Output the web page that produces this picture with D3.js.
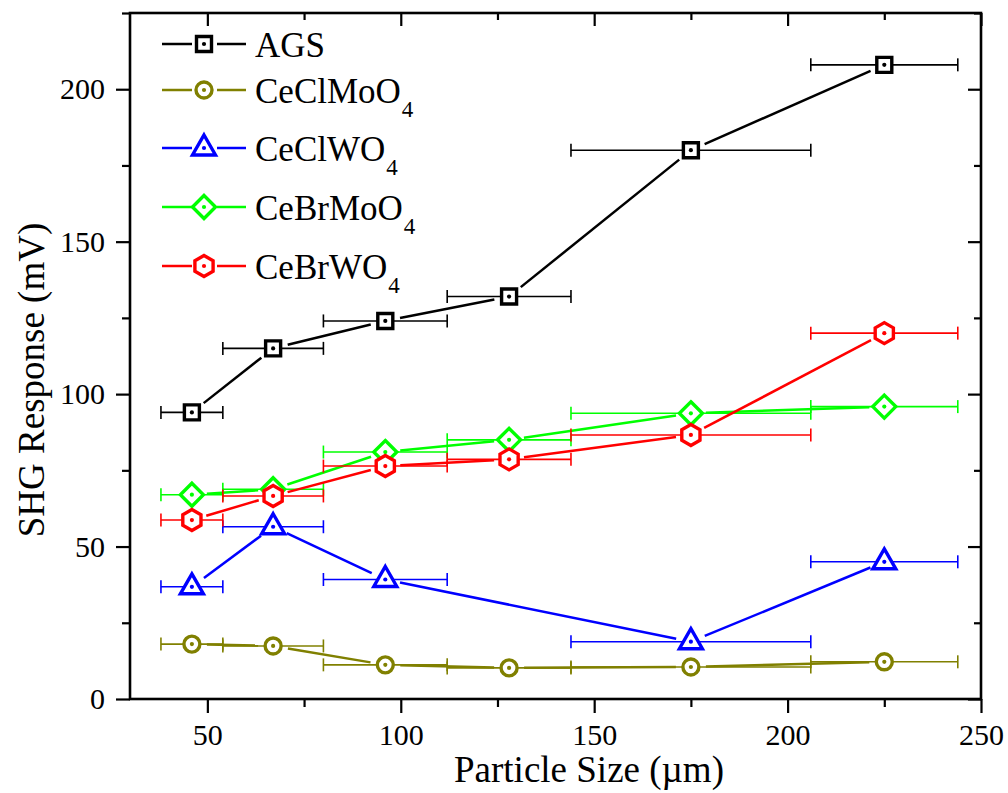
<!DOCTYPE html>
<html lang="en">
<head>
  <meta charset="UTF-8">
  <title>SHG response vs particle size</title>
  <script src="https://d3js.org/d3.v7.min.js"></script>
  <style>
    body { margin: 0; background: #fff; }
    text { font-family: "Liberation Serif", "Times New Roman", serif; }
  </style>
</head>
<body>
  <svg id="chart" width="1008" height="793"></svg>

  <script>
    // particle size ranges (um) -> centre and x error bars
    const sizes = [46, 67, 96, 128, 175, 225];
    const sizeLow = [38, 54, 80, 112, 144, 206];
    const sizeHigh = [54, 80, 112, 144, 206, 244];

    // SHG response (mV), null where there is no point
    const ags = [94, 115, 124, 132, 180, 208];
    const ceClMoO4 = [18, 17.4, 11.2, 10.2, 10.5, 12.2];
    const ceClWO4 = [36.8, 56.5, 39.2, null, 18.8, 45];
    const ceBrMoO4 = [67, 68.8, 81, 85, 93.7, 95.9];
    const ceBrWO4 = [58.7, 66.6, 76.4, 78.6, 86.6, 120];

    const seriesNames = ["AGS", "CeClMoO4", "CeClWO4", "CeBrMoO4", "CeBrWO4"];
    const seriesColors = ["#000000", "#808000", "#0000ff", "#00ff00", "#ff0000"];
    const seriesShapes = ["square", "circle", "triangle", "diamond", "hexagon"];
    const seriesValues = [ags, ceClMoO4, ceClWO4, ceBrMoO4, ceBrWO4];

    const xMajor = [50, 100, 150, 200, 250];
    const xMinor = [75, 125, 175, 225];
    const yMajor = [0, 50, 100, 150, 200];
    const yMinor = [25, 75, 125, 175, 225];

    const padL = 130, padR = 981, padT = 13, padB = 699;
    const svg = d3.select("#chart");

    const x = d3.scaleLinear().domain([30, 250]).range([padL, padR]);
    const y = d3.scaleLinear().domain([0, 225]).range([padB, padT]);

    // axes: outer ticks on bottom/left, inner on top/right
    function styleAxis(g) {
      g.select(".domain").remove();
      g.selectAll("line").attr("stroke", "#000").attr("stroke-width", 2.2);
      g.selectAll("text").attr("font-size", 30).attr("fill", "#000")
        .style("font-family", '"Liberation Serif", "Times New Roman", serif');
    }

    svg.append("g").attr("transform", `translate(0,${padB})`)
      .call(d3.axisBottom(x).tickValues(xMajor).tickSize(14).tickPadding(11))
      .call(styleAxis);
    svg.append("g").attr("transform", `translate(0,${padB})`)
      .call(d3.axisBottom(x).tickValues(xMinor).tickSize(8).tickFormat(""))
      .call(styleAxis);
    svg.append("g").attr("transform", `translate(0,${padT})`)
      .call(d3.axisTop(x).tickValues(xMajor).tickSize(-13).tickFormat(""))
      .call(styleAxis);
    svg.append("g").attr("transform", `translate(0,${padT})`)
      .call(d3.axisTop(x).tickValues(xMinor).tickSize(-7).tickFormat(""))
      .call(styleAxis);

    svg.append("g").attr("transform", `translate(${padL},0)`)
      .call(d3.axisLeft(y).tickValues(yMajor).tickSize(14).tickPadding(11))
      .call(styleAxis);
    svg.append("g").attr("transform", `translate(${padL},0)`)
      .call(d3.axisLeft(y).tickValues(yMinor).tickSize(8).tickFormat(""))
      .call(styleAxis);
    svg.append("g").attr("transform", `translate(${padR},0)`)
      .call(d3.axisRight(y).tickValues(yMajor).tickSize(-13).tickFormat(""))
      .call(styleAxis);
    svg.append("g").attr("transform", `translate(${padR},0)`)
      .call(d3.axisRight(y).tickValues(yMinor).tickSize(-7).tickFormat(""))
      .call(styleAxis);

    svg.append("rect")
      .attr("x", padL).attr("y", padT)
      .attr("width", padR - padL).attr("height", padB - padT)
      .attr("fill", "none").attr("stroke", "#000").attr("stroke-width", 2.6);

    // axis titles
    svg.append("text")
      .attr("x", 589).attr("y", 782)
      .attr("text-anchor", "middle").attr("font-size", 37)
      .text("Particle Size (\u00b5m)");

    svg.append("text")
      .attr("transform", "translate(44,380) rotate(-90)")
      .attr("text-anchor", "middle").attr("font-size", 37)
      .text("SHG Response (mV)");

    // marker shapes
    function shapePath(shape) {
      if (shape === "square") return "M-7.5,-7.5H7.5V7.5H-7.5Z";
      if (shape === "circle") return "M8,0A8,8 0 1,1 -8,0A8,8 0 1,1 8,0Z";
      if (shape === "triangle") return "M0,-13L11.5,7L-11.5,7Z";
      if (shape === "diamond") return "M0,-11.5L11.5,0L0,11.5L-11.5,0Z";
      const r = 10.5;
      const pts = d3.range(6).map(k => {
        const a = (-90 + 60 * k) * Math.PI / 180;
        return [r * Math.cos(a), r * Math.sin(a)];
      });
      return "M" + pts.map(p => p.join(",")).join("L") + "Z";
    }

    function drawMarker(g, cx, cy, shape, color) {
      g.append("path")
        .attr("d", shapePath(shape))
        .attr("transform", `translate(${cx},${cy})`)
        .attr("fill", "#fff").attr("stroke", color).attr("stroke-width", 3.4)
        .attr("stroke-linejoin", "miter");
      g.append("circle")
        .attr("cx", cx).attr("cy", cy).attr("r", 2.1).attr("fill", color);
    }

    const plot = svg.append("g");
    const gap = 15;

    seriesValues.forEach((vals, si) => {
      const color = seriesColors[si];
      const pts = sizes.map((s, i) => ({ i: i, px: x(s), py: vals[i] == null ? null : y(vals[i]) }))
        .filter(p => p.py != null);
      const g = plot.append("g");

      // connecting lines with small gaps at the markers
      for (let k = 0; k < pts.length - 1; k++) {
        const a = pts[k], b = pts[k + 1];
        const dx = b.px - a.px, dy = b.py - a.py;
        const len = Math.hypot(dx, dy);
        const ux = dx / len, uy = dy / len;
        g.append("line")
          .attr("x1", a.px + ux * gap).attr("y1", a.py + uy * gap)
          .attr("x2", b.px - ux * gap).attr("y2", b.py - uy * gap)
          .attr("stroke", color).attr("stroke-width", 2.5);
      }

      // horizontal error bars
      pts.forEach(p => {
        const x1 = x(sizeLow[p.i]), x2 = x(sizeHigh[p.i]);
        g.append("line").attr("x1", x1).attr("x2", x2).attr("y1", p.py).attr("y2", p.py)
          .attr("stroke", color).attr("stroke-width", 1.6);
        [x1, x2].forEach(xx => {
          g.append("line").attr("x1", xx).attr("x2", xx).attr("y1", p.py - 6.5).attr("y2", p.py + 6.5)
            .attr("stroke", color).attr("stroke-width", 1.6);
        });
      });

      pts.forEach(p => drawMarker(g, p.px, p.py, seriesShapes[si], color));
    });

    // legend
    const legendY = [44, 90, 148, 207, 266];
    const legend = svg.append("g");
    seriesNames.forEach((name, i) => {
      const color = seriesColors[i];
      const ly = legendY[i];
      legend.append("line").attr("x1", 162).attr("x2", 192).attr("y1", ly).attr("y2", ly)
        .attr("stroke", color).attr("stroke-width", 2.5);
      legend.append("line").attr("x1", 217).attr("x2", 246).attr("y1", ly).attr("y2", ly)
        .attr("stroke", color).attr("stroke-width", 2.5);
      drawMarker(legend, 204, ly, seriesShapes[i], color);

      const t = legend.append("text")
        .attr("x", 255).attr("y", ly + 12.5)
        .attr("font-size", 35).attr("fill", "#000");
      const m = name.match(/^(.*?)(\d+)$/);
      if (m) {
        t.append("tspan").text(m[1]);
        t.append("tspan").attr("dx", 1).attr("dy", 14).attr("font-size", 23).text(m[2]);
      } else {
        t.text(name);
      }
    });
  </script>
</body>
</html>
